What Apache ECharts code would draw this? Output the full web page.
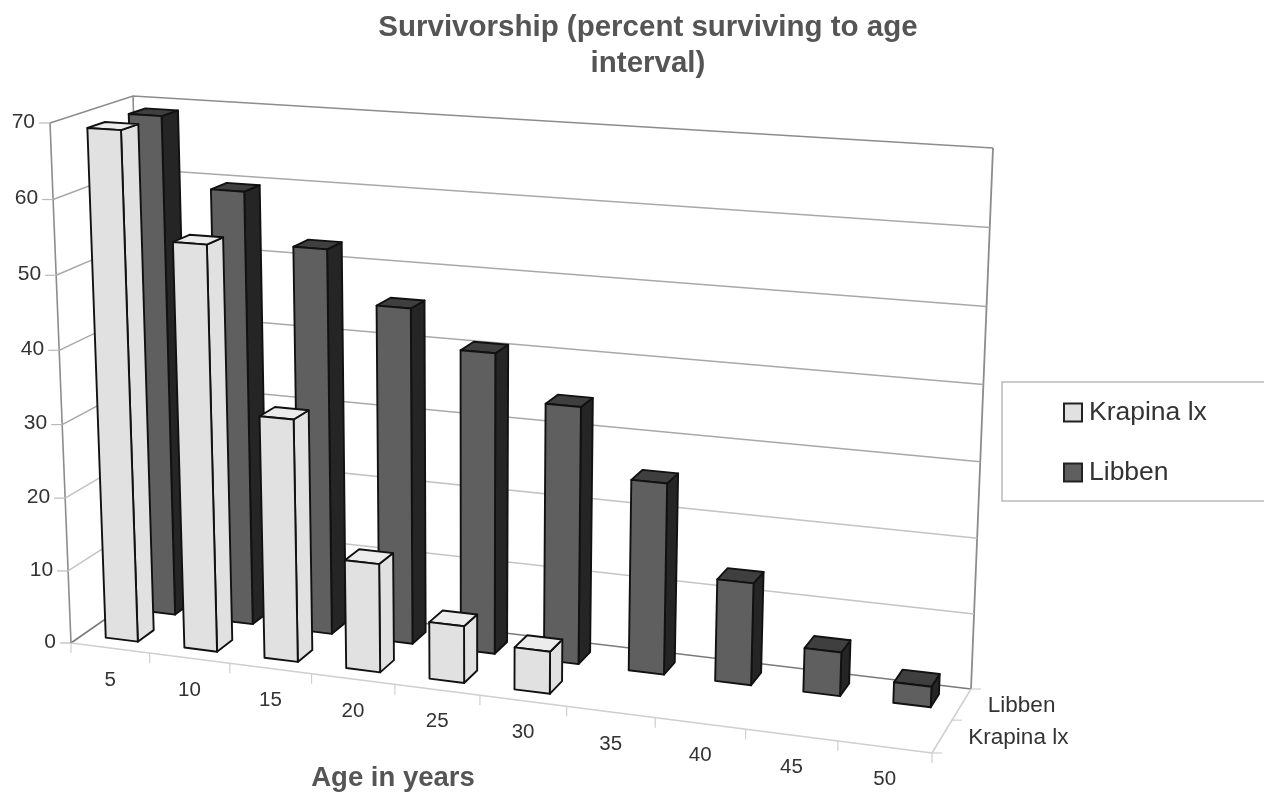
<!DOCTYPE html>
<html><head><meta charset="utf-8">
<style>html,body{margin:0;padding:0;background:#fff}#c{width:1264px;height:792px}</style>
<script src="https://cdn.jsdelivr.net/npm/echarts@6/dist/echarts.min.js"></script>
</head><body><div id="c"></div>
<script>
const categories = ['5','10','15','20','25','30','35','40','45','50'];
const krapina = [69, 54.8, 32.7, 14.6, 7.6, 5.6, null, null, null, null];
const libben = [69, 59.6, 52.7, 45.7, 40.7, 34.6, 25.6, 13.6, 5.8, 2.7];
const yTicks = [0,10,20,30,40,50,60,70];
const rows = ['Krapina lx','Libben'];

// cube corners on screen
const O=[71,643],B=[932,753],F=[971,689],E=[147,590];
const C=[50,123],D=[954,181],H=[993,148],G=[133,96];
function quad(a,b,f,e){
  const x1=b[0]-f[0],y1=b[1]-f[1],x2=e[0]-f[0],y2=e[1]-f[1],x3=a[0]-f[0],y3=a[1]-f[1];
  const det=x1*y2-x2*y1,p=(x3*y2-x2*y3)/det,q=(x1*y3-x3*y1)/det;
  return (u,v)=>{const d=1+u*(p-1)+v*(q-1);
    return [0,1].map(k=>(a[k]+u*(p*b[k]-a[k])+v*(q*e[k]-a[k]))/d);};
}
const floorQ=quad(O,B,F,E), topQ=quad(C,D,H,G);
function P(u,v,w){
  const a=floorQ(u,v),b=topQ(u,v),t=w-0.035*w*(1-w);
  return [a[0]+(b[0]-a[0])*t,a[1]+(b[1]-a[1])*t];
}
const rowV=[[0.15,0.36],[0.65,0.86]], halfBar=0.0205;
function norm(params,api,cat,val){
  const c=api.coord([cat,val]),s=params.coordSys;
  return [(c[0]-s.x)/s.width,(s.y+s.height-c[1])/s.height];
}
function barSeries(idx,values,face,top,side){
  return {type:'custom',name:rows[idx],coordinateSystem:'cartesian2d',z:idx===0?4:3,
    itemStyle:{color:face,borderColor:'#222',borderWidth:1.5},
    encode:{x:0,y:1},
    data:values.map((v,i)=>[i,v]).filter(d=>d[1]!==null),
    renderItem(params,api){
      const n=norm(params,api,api.value(0),api.value(1)),w=n[1];
      const u0=n[0]-halfBar,u1=n[0]+halfBar,v0=rowV[idx][0],v1=rowV[idx][1];
      const s=(f)=>({fill:f,stroke:'#111',lineWidth:1.9,lineJoin:'round'});
      const poly=(pts,f)=>({type:'polygon',shape:{points:pts},style:s(f)});
      return {type:'group',children:[
        poly([P(u1,v0,0),P(u1,v1,0),P(u1,v1,w),P(u1,v0,w)],side),
        poly([P(u0,v0,w),P(u1,v0,w),P(u1,v1,w),P(u0,v1,w)],top),
        poly([P(u0,v0,0),P(u1,v0,0),P(u1,v0,w),P(u0,v0,w)],face)
      ]};
    }};
}
const line=(pts,c,lw)=>({type:'polyline',shape:{points:pts},style:{fill:'none',stroke:c,lineWidth:lw||1.5}});
const txt=(x,y,t,al,size)=>({type:'text',style:{x,y,text:t,align:al,verticalAlign:'middle',fill:'#333',font:size+'px "Liberation Sans",Arial,sans-serif'}});

const wallSeries={type:'custom',name:'walls',coordinateSystem:'cartesian2d',z:1,silent:true,
  data:yTicks.map(t=>[0,t]),encode:{x:0,y:1},
  renderItem(params,api){
    const w=norm(params,api,0,api.value(1))[1];
    const ch=[];
    if(w>0) ch.push(line([P(0,0,w),P(0,1,w),P(1,1,w)],w>0.9?'#8c8c8c':(w<0.3?'#c4c4c4':'#a8a8a8')));
    const f=P(0,0,w);
    ch.push(line([[f[0]-11,f[1]],f],'#bbb',1.2));
    ch.push(txt(f[0]-15,f[1]-1,String(api.value(1)),'right',21));
    if(w===0){
      ch.push(line([P(0,0,0),P(0,1,0),P(1,1,0)],'#7a7a7a',1.6));
      ch.push(line([P(0,0,0),P(1,0,0)],'#cfcfcf',1.5));
      ch.push(line([P(1,0,0),P(1,1,0)],'#cfcfcf',1.5));
      ch.push(line([P(0,0,0),P(0,0,1)],'#8c8c8c',1.6));
      ch.push(line([P(0,1,0),P(0,1,1)],'#8c8c8c',1.6));
      ch.push(line([P(1,1,0),P(1,1,1)],'#8c8c8c',1.8));
      [0,0.5,1].forEach(r=>{const a=P(1,r,0);ch.push(line([a,[a[0]+10,a[1]]],'#cfcfcf',1.2));});
    }
    return {type:'group',children:ch};
  }};
const catLabelSeries={type:'custom',name:'catLabels',coordinateSystem:'cartesian2d',z:2,silent:true,
  data:categories.map((c,i)=>[i,0]),encode:{x:0,y:1},
  renderItem(params,api){
    const i=api.value(0),n=norm(params,api,i,0),a=P(n[0],0,0);
    const ch=[txt(a[0],a[1]+32,categories[i],'center',20.5)];
    const e=P(i/categories.length,0,0),e2=P((i+1)/categories.length,0,0);
    ch.push(line([[e2[0],e2[1]],[e2[0],e2[1]+10]],'#cfcfcf',1.2));
    if(i===0) ch.push(line([[e[0],e[1]],[e[0],e[1]+10]],'#cfcfcf',1.2));
    return {type:'group',children:ch};
  }};
const rowLabelSeries={type:'custom',name:'rowLabels',coordinateSystem:'cartesian2d',z:2,silent:true,
  data:rows.map((r,i)=>[i,0]),encode:{x:0,y:1},
  renderItem(params,api){
    const i=api.value(0),a=P(1,(rowV[i][0]+rowV[i][1])/2,0);
    return txt(a[0]+26,a[1]+2,rows[i],'left',22.5);
  }};

const chart=echarts.init(document.getElementById('c'),null,{renderer:'canvas'});
chart.setOption({
  animation:false,backgroundColor:'#fff',
  title:[
    {text:'Survivorship (percent surviving to age\ninterval)',left:643,top:5,textAlign:'center',
     textStyle:{fontFamily:'"Liberation Sans",Arial,sans-serif',fontSize:29.5,fontWeight:'bold',color:'#555',lineHeight:36}},
    {text:'Age in years',left:388,top:759,textAlign:'center',
     textStyle:{fontFamily:'"Liberation Sans",Arial,sans-serif',fontSize:27.5,fontWeight:'bold',color:'#555'}}
  ],
  grid:{left:100,right:300,top:100,bottom:100,show:false},
  xAxis:{type:'category',data:categories,show:false},
  yAxis:{type:'value',min:0,max:70,interval:10,show:false},
  legend:{show:true,data:rows,orient:'vertical',left:1002,top:382,
    padding:[17,160,15,61],itemGap:33,itemWidth:18,itemHeight:18,
    borderColor:'#bbb',borderWidth:1.5,backgroundColor:'#fff',icon:'rect',
    textStyle:{fontFamily:'"Liberation Sans",Arial,sans-serif',fontSize:26.5,color:'#333',padding:[0,0,4,2]}},
  series:[wallSeries,catLabelSeries,rowLabelSeries,
    barSeries(0,krapina,'#e1e1e1','#ececec','#e1e1e1'),
    barSeries(1,libben,'#5f5f5f','#3f3f3f','#252525')]
});
</script></body></html>
